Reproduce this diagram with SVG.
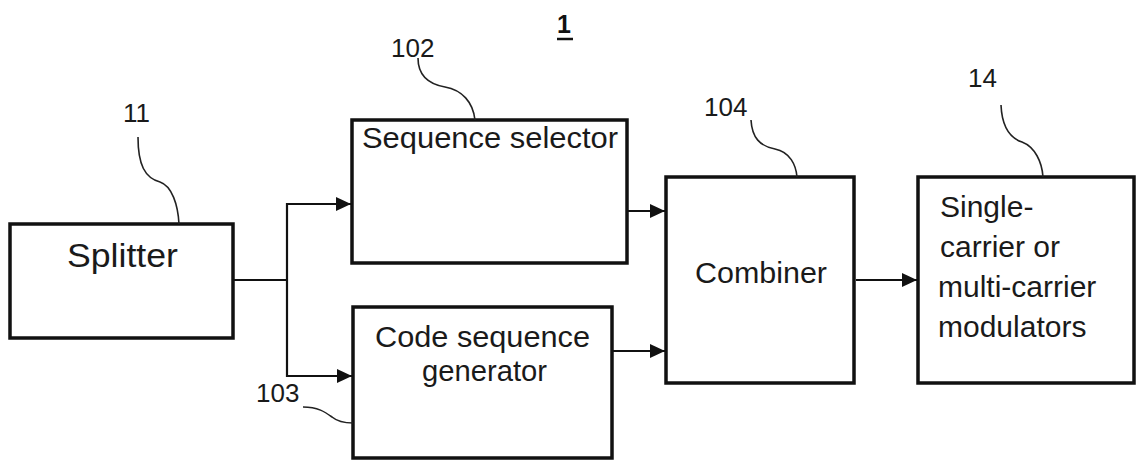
<svg xmlns="http://www.w3.org/2000/svg" width="1136" height="460" viewBox="0 0 1136 460">
<defs>
<marker id="arr" markerWidth="16" markerHeight="14" refX="15" refY="7" orient="auto" markerUnits="userSpaceOnUse">
<path d="M0,0 L15,7 L0,14 Z" fill="#111"/>
</marker>
<style>
.box{fill:#fff;stroke:#111;stroke-width:3.5}
.t{font-family:"Liberation Sans",Arial,sans-serif;font-size:30px;fill:#1a1a1a}
.lab{font-family:"Liberation Sans",Arial,sans-serif;font-size:26px;fill:#1a1a1a}
.lead{fill:none;stroke:#222;stroke-width:1.6}
.conn{fill:none;stroke:#111;stroke-width:2.2}
</style>
</defs>
<rect width="1136" height="460" fill="#fff"/>
<g id="title">
<text x="564" y="33" text-anchor="middle" font-family="Liberation Sans, Arial, sans-serif" font-size="25" font-weight="bold" fill="#111">1</text>
<line x1="557" y1="39" x2="573" y2="39" stroke="#111" stroke-width="2.5"/>
</g>
<g id="splitter">
<rect class="box" x="10" y="224" width="223" height="114"/>
<text class="t" x="67" y="267" style="font-size:34px" textLength="111" lengthAdjust="spacingAndGlyphs">Splitter</text>
</g>
<g id="sequence-selector">
<rect class="box" x="352" y="120" width="275" height="143"/>
<text class="t" x="362" y="148" textLength="256" lengthAdjust="spacingAndGlyphs">Sequence selector</text>
</g>
<g id="code-sequence-generator">
<rect class="box" x="353" y="307" width="259" height="151"/>
<text class="t" x="375" y="347" textLength="215" lengthAdjust="spacingAndGlyphs">Code sequence</text>
<text class="t" x="422" y="381" textLength="125" lengthAdjust="spacingAndGlyphs">generator</text>
</g>
<g id="combiner">
<rect class="box" x="666" y="177" width="188" height="206"/>
<text class="t" x="695" y="283" textLength="132" lengthAdjust="spacingAndGlyphs">Combiner</text>
</g>
<g id="modulators">
<rect class="box" x="918" y="177" width="216" height="206"/>
<text class="t" x="940" y="217">Single-</text>
<text class="t" x="940" y="257">carrier or</text>
<text class="t" x="938" y="297">multi-carrier</text>
<text class="t" x="938" y="337">modulators</text>
</g>
<g id="labels">
<text class="lab" x="123" y="122">11</text>
<text class="lab" x="391" y="57">102</text>
<text class="lab" x="256" y="402">103</text>
<text class="lab" x="704" y="116">104</text>
<text class="lab" x="968" y="87">14</text>
<path class="lead" d="M138,137 C138,165 145,178 160,182 C172,186 178,205 179,224"/>
<path class="lead" d="M418,58 C418,75 428,84 445,87 C462,90 473,102 475,120"/>
<path class="lead" d="M303,407 C318,407 325,412 332,417 C338,422 345,423 353,423"/>
<path class="lead" d="M751,120 C752,138 760,146 775,149 C790,152 796,165 797,177"/>
<path class="lead" d="M1001,105 C1002,128 1010,138 1022,142 C1035,147 1042,162 1043,177"/>
</g>
<g id="connectors">
<polyline class="conn" points="233,280 287,280"/>
<polyline class="conn" points="287,280 287,204 351,204" marker-end="url(#arr)"/>
<polyline class="conn" points="287,280 287,376 352,376" marker-end="url(#arr)"/>
<line class="conn" x1="628" y1="211" x2="665" y2="211" marker-end="url(#arr)"/>
<line class="conn" x1="613" y1="351" x2="665" y2="351" marker-end="url(#arr)"/>
<line class="conn" x1="856" y1="280" x2="917" y2="280" marker-end="url(#arr)"/>
</g>
</svg>
